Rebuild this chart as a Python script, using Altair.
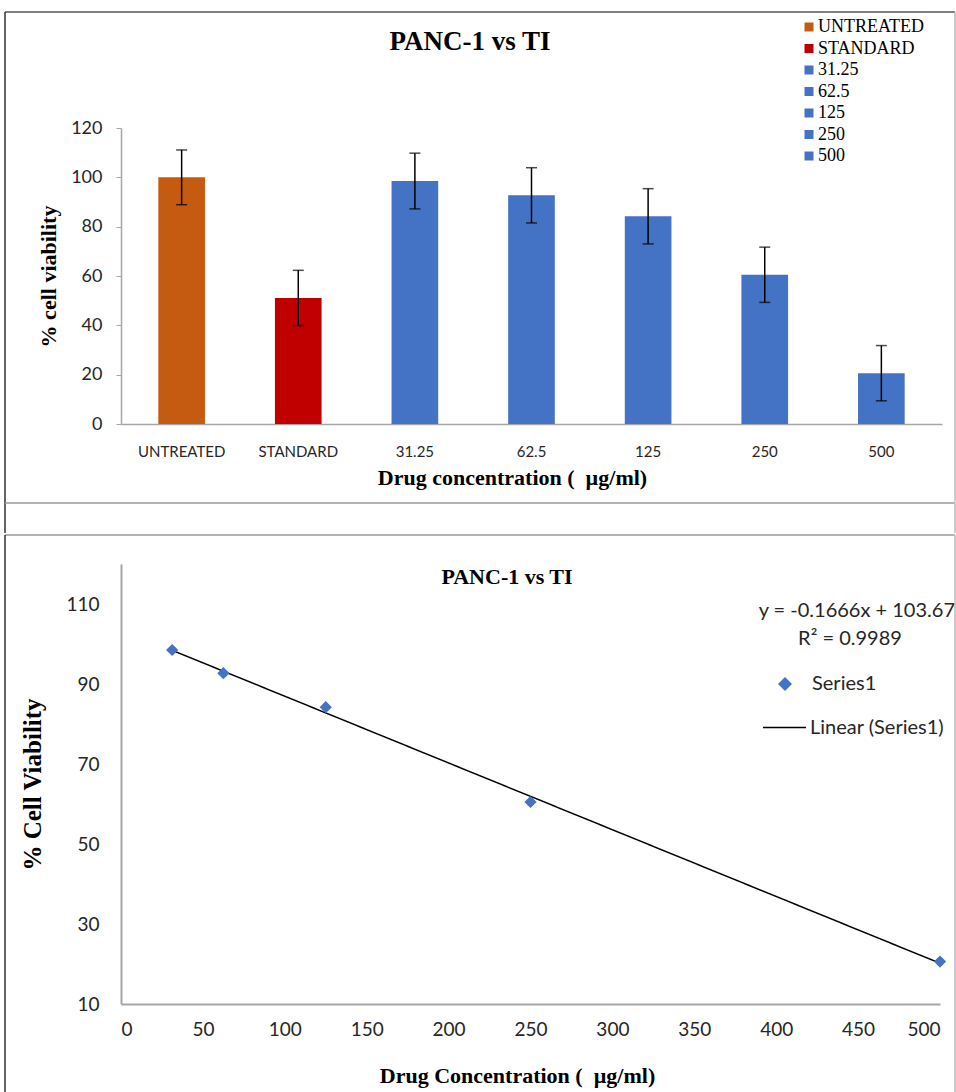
import altair as alt
import pandas as pd

# ---------------- data ----------------
categories = ["UNTREATED", "STANDARD", "31.25", "62.5", "125", "250", "500"]
viability = [100.0, 51.1, 98.5, 92.7, 84.2, 60.5, 20.6]
errors = [11.1, 11.2, 11.3, 11.2, 11.2, 11.2, 11.2]
bar_colors = ["#C55A11", "#C00000", "#4472C4", "#4472C4", "#4472C4", "#4472C4", "#4472C4"]
top_y_ticks = [0, 20, 40, 60, 80, 100, 120]

concentrations = [31.25, 62.5, 125, 250, 500]
conc_viability = [98.5, 92.7, 84.2, 60.5, 20.6]
bottom_x_ticks = [0, 50, 100, 150, 200, 250, 300, 350, 400, 450, 500]
bottom_y_ticks = [10, 30, 50, 70, 90, 110]

title_text = "PANC-1 vs TI"
equation_text = "y = -0.1666x + 103.67"
r2_text = "R² = 0.9989"
series_name = "Series1"
trend_name = "Linear (Series1)"

SERIF = "Liberation Serif"
SANS = "Lato"
LABEL_COLOR = "#262626"
AXIS_GRAY = "#A6A6A6"

bar_df = pd.DataFrame({
    "cat": categories,
    "v": viability,
    "lo": [v - e for v, e in zip(viability, errors)],
    "hi": [v + e for v, e in zip(viability, errors)],
})
pt_df = pd.DataFrame({"c": concentrations, "v": conc_viability, "series": [series_name] * len(concentrations)})
one = pd.DataFrame({"k": [0]})

# ---------------- top chart ----------------
W1, H1 = 821, 296

x_top = alt.X(
    "cat:N", sort=categories,
    scale=alt.Scale(paddingInner=0.6, paddingOuter=0.32),
    axis=alt.Axis(
        title="Drug concentration (\u00a0 µg/ml)", labelAngle=0, ticks=False,
        labelFont=SANS, labelFontSize=15, labelColor=LABEL_COLOR, labelPadding=20,
        domainColor=AXIS_GRAY, domainWidth=1.5,
        titleFont=SERIF, titleFontWeight="bold", titleFontSize=22, titleColor="black",
        titlePadding=8, titleX=391,
    ),
)
y_top = alt.Y(
    "v:Q", scale=alt.Scale(domain=[0, 120], nice=False),
    axis=alt.Axis(
        values=top_y_ticks, grid=False, tickSize=5, tickColor=AXIS_GRAY,
        domainColor=AXIS_GRAY, domainWidth=1.5,
        labelFont=SANS, labelFontSize=18, labelColor=LABEL_COLOR, labelPadding=14,
        title="% cell viability", titleFont=SERIF, titleFontWeight="bold",
        titleFontSize=22, titleColor="black", titlePadding=10,
    ),
)

bars = alt.Chart(bar_df).mark_bar().encode(
    x=x_top, y=y_top,
    color=alt.Color(
        "cat:N", sort=categories,
        scale=alt.Scale(domain=categories, range=bar_colors),
        legend=alt.Legend(
            title=None, orient="none", legendX=679, legendY=-110, padding=0,
            symbolType="square", symbolSize=81, symbolStrokeWidth=0,
            labelFont=SERIF, labelFontSize=18, labelColor="black",
            labelOffset=0, rowPadding=3.5,
        ),
    ),
)
err_rule = alt.Chart(bar_df).mark_rule(color="black", strokeWidth=1.5).encode(
    x=alt.X("cat:N", sort=categories), y="lo:Q", y2="hi:Q")
cap_lo = alt.Chart(bar_df).mark_tick(color="black", size=11, thickness=1.5, orient="horizontal").encode(
    x=alt.X("cat:N", sort=categories), y="lo:Q")
cap_hi = alt.Chart(bar_df).mark_tick(color="black", size=11, thickness=1.5, orient="horizontal").encode(
    x=alt.X("cat:N", sort=categories), y="hi:Q")

def rule(x, x2, y, y2, color):
    return alt.Chart(one).mark_rule(color=color, strokeWidth=1.5).encode(
        x=alt.value(x), x2=alt.value(x2), y=alt.value(y), y2=alt.value(y2))

top_frame = [
    rule(-116, 834, -116, -116, "#555555"),
    rule(-116, -116, -116, 405, "#333333"),
    rule(-116, 834, 375, 375, "#9A9A9A"),
    rule(834, 834, -116, 405, "#BBBBBB"),
]
top_title = alt.Chart(pd.DataFrame({"t": [title_text]})).mark_text(
    font=SERIF, fontWeight="bold", fontSize=27, color="black", align="center", baseline="middle"
).encode(x=alt.value(349), y=alt.value(-86), text="t:N")

top = alt.layer(bars, err_rule, cap_lo, cap_hi, top_title, *top_frame).properties(width=W1, height=H1)

# ---------------- bottom chart ----------------
W2, H2 = 819, 440

x_bot = alt.X(
    "c:Q", scale=alt.Scale(domain=[0, 500], nice=False),
    axis=alt.Axis(
        values=bottom_x_ticks, ticks=False, grid=False,
        domainColor=AXIS_GRAY, domainWidth=2,
        labelFont=SANS, labelFontSize=19, labelColor=LABEL_COLOR, labelPadding=16,
        title="Drug Concentration (\u00a0 µg/ml)", titleFont=SERIF, titleFontWeight="bold",
        titleFontSize=22, titleColor="black", titlePadding=26, titleX=396,
    ),
)
y_bot = alt.Y(
    "v:Q", scale=alt.Scale(domain=[10, 120], nice=False),
    axis=alt.Axis(
        values=bottom_y_ticks, ticks=False, grid=False,
        domainColor=AXIS_GRAY, domainWidth=2,
        labelFont=SANS, labelFontSize=19, labelColor=LABEL_COLOR, labelPadding=22,
        title="% Cell Viability", titleFont=SERIF, titleFontWeight="bold",
        titleFontSize=25, titleColor="black", titlePadding=20,
    ),
)

trend = alt.Chart(pt_df).transform_regression(
    "c", "v", extent=[31.25, 500]
).transform_calculate(trend=f"'{trend_name}'").mark_line(color="black", strokeWidth=1.5).encode(
    x=x_bot, y=y_bot,
    strokeDash=alt.StrokeDash(
        "trend:N", scale=alt.Scale(domain=[trend_name], range=[[1, 0]]),
        legend=alt.Legend(
            title=None, orient="none", legendX=641, legendY=141, padding=0,
            symbolSize=1849, symbolStrokeColor="black", symbolStrokeWidth=1.5,
            labelFont=SANS, labelFontSize=20, labelColor=LABEL_COLOR, labelOffset=3,
        ),
    ),
)
points = alt.Chart(pt_df).mark_point(filled=True, size=150, opacity=1, color="#4472C4").encode(
    x=x_bot, y=y_bot,
    shape=alt.Shape(
        "series:N", scale=alt.Scale(domain=[series_name], range=["diamond"]),
        legend=alt.Legend(
            title=None, orient="none", legendX=654, legendY=110, padding=0,
            symbolSize=196, symbolFillColor="#4472C4", symbolStrokeWidth=0,
            labelFont=SANS, labelFontSize=20, labelColor=LABEL_COLOR, labelOffset=17,
        ),
    ),
)
eq = alt.Chart(pd.DataFrame({"t": [equation_text]})).mark_text(
    font=SANS, fontSize=20, color=LABEL_COLOR, align="right", baseline="middle"
).encode(x=alt.value(834), y=alt.value(47), text="t:N")
r2 = alt.Chart(pd.DataFrame({"t": [r2_text]})).mark_text(
    font=SANS, fontSize=20, color=LABEL_COLOR, align="center", baseline="middle"
).encode(x=alt.value(729), y=alt.value(75), text="t:N")
bot_title = alt.Chart(pd.DataFrame({"t": [title_text]})).mark_text(
    font=SERIF, fontWeight="bold", fontSize=22, color="black", align="center", baseline="middle"
).encode(x=alt.value(386), y=alt.value(13), text="t:N")

bot_frame = [
    rule(-116, 834, -29, -29, "#9A9A9A"),
    rule(-116, -116, -29, 530, "#333333"),
    rule(834, 834, -29, 530, "#BBBBBB"),
]

bottom = alt.layer(trend, points, eq, r2, bot_title, *bot_frame).properties(width=W2, height=H2)

chart = alt.vconcat(top, bottom, spacing=0).properties(
    padding={"left": 4, "top": 11, "right": 0, "bottom": 0},
    background="white",
).configure_view(stroke=None).resolve_scale(color="independent", shape="independent", strokeDash="independent")

chart.save("out.html", embed_options={"renderer": "svg", "actions": False})
